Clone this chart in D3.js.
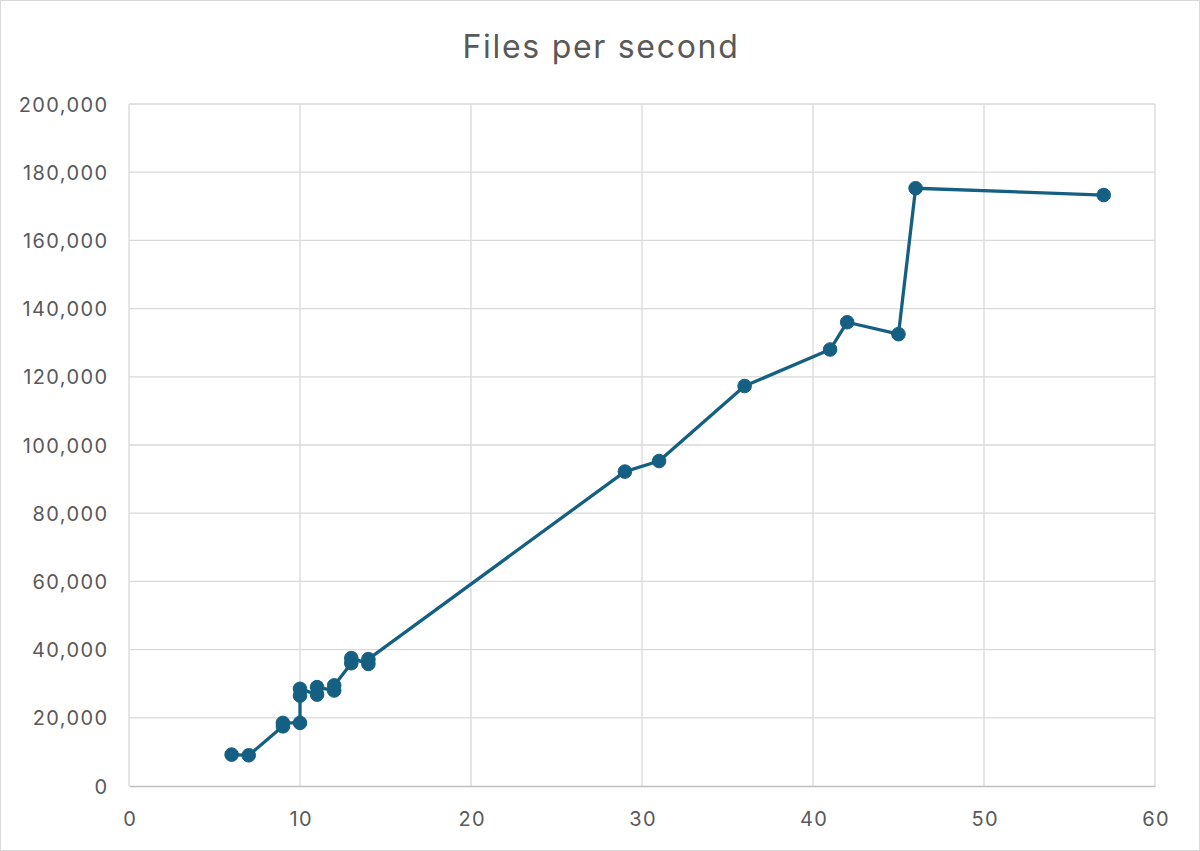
<!DOCTYPE html>
<html>
<head>
<meta charset="utf-8">
<script src="https://cdn.jsdelivr.net/npm/d3@7"></script>
<style>
  body { margin: 0; background: #fff; }
  #chart { width: 1200px; height: 851px; }
  .tick text { font-family: Inter, "Open Sans", sans-serif; }
</style>
</head>
<body>
<div id="chart"></div>
<script>
// data (threads vs files per second)
const threads = [6, 7, 9, 9, 10, 10, 10, 11, 11, 12, 12, 13, 13, 14, 14, 29, 31, 36, 41, 42, 45, 46, 57];
const filesPerSecond = [9200, 9000, 17500, 18500, 18500, 26500, 28500, 26800, 29000, 28000, 29500,
    36000, 37500, 35800, 37200, 92200, 95300, 117300, 128000, 136000, 132500, 175300, 173300];
const xTicks = [0, 10, 20, 30, 40, 50, 60];
const yTicks = [0, 20000, 40000, 60000, 80000, 100000, 120000, 140000, 160000, 180000, 200000];
const chartTitle = "Files per second";

function main() {
    const data = threads.map(function(t, i) { return {x: t, y: filesPerSecond[i]}; });
    drawChart(data);
}

function drawChart(data) {
    const width = 1200, height = 851;
    const plot = {left: 129, right: 1155, top: 104, bottom: 786};
    const textColor = "#595959";
    const lineColor = "#156082";

    const svg = d3.select("#chart")
        .append("svg")
        .attr("width", width)
        .attr("height", height);

    // chart border
    svg.append("rect")
        .attr("x", 0.5).attr("y", 0.5)
        .attr("width", width - 1).attr("height", height - 1)
        .attr("fill", "#fff")
        .attr("stroke", "#d9d9d9");

    svg.append("text")
        .attr("x", width / 2 + 1)
        .attr("y", 58)
        .attr("text-anchor", "middle")
        .style("font-family", "Inter, 'Open Sans', sans-serif")
        .style("font-size", "32px")
        .style("letter-spacing", "1.7px")
        .style("fill", textColor)
        .text(chartTitle);

    const xScale = d3.scaleLinear().domain([0, 60]).range([plot.left, plot.right]);
    const yScale = d3.scaleLinear().domain([0, 200000]).range([plot.bottom, plot.top]);

    // vertical gridlines
    svg.append("g")
        .selectAll("line")
        .data(xTicks)
        .enter()
        .append("line")
        .attr("x1", function(d) { return xScale(d); })
        .attr("x2", function(d) { return xScale(d); })
        .attr("y1", plot.top)
        .attr("y2", plot.bottom)
        .attr("stroke", "#d9d9d9")
        .attr("stroke-width", 1.3);

    // horizontal gridlines
    svg.append("g")
        .selectAll("line")
        .data(yTicks.filter(function(d) { return d > 0; }))
        .enter()
        .append("line")
        .attr("x1", plot.left)
        .attr("x2", plot.right)
        .attr("y1", function(d) { return yScale(d); })
        .attr("y2", function(d) { return yScale(d); })
        .attr("stroke", "#d9d9d9")
        .attr("stroke-width", 1.3);

    // x axis
    const xAxis = svg.append("g")
        .attr("transform", `translate(0, ${plot.bottom})`)
        .call(d3.axisBottom(xScale).tickValues(xTicks).tickSize(0));
    xAxis.select(".domain").attr("stroke", "#bfbfbf").attr("stroke-width", 1.5);
    xAxis.selectAll("text")
        .attr("y", 40)
        .attr("dy", null)
        .attr("dx", "0.7")
        .style("font-size", "20px")
        .style("letter-spacing", "1.4px")
        .style("fill", textColor);

    // y axis
    const yAxis = svg.append("g")
        .attr("transform", `translate(${plot.left}, 0)`)
        .call(d3.axisLeft(yScale).tickValues(yTicks).tickSize(0).tickPadding(20.5)
            .tickFormat(d3.format(",")));
    yAxis.select(".domain").remove();
    yAxis.selectAll("text")
        .attr("dy", null)
        .attr("y", 7)
        .style("font-size", "20px")
        .style("letter-spacing", "1.4px")
        .style("fill", textColor);

    // line
    const line = d3.line()
        .x(function(d) { return xScale(d.x); })
        .y(function(d) { return yScale(d.y); });

    svg.append("path")
        .datum(data)
        .attr("d", line)
        .attr("fill", "none")
        .attr("stroke", lineColor)
        .attr("stroke-width", 3.3)
        .attr("stroke-linejoin", "round");

    // markers
    svg.selectAll(".marker")
        .data(data)
        .enter()
        .append("circle")
        .attr("class", "marker")
        .attr("cx", function(d) { return xScale(d.x); })
        .attr("cy", function(d) { return yScale(d.y); })
        .attr("r", 6.8)
        .attr("fill", lineColor)
        .attr("stroke", lineColor)
        .attr("stroke-width", 1);
}

main();
</script>
</body>
</html>
